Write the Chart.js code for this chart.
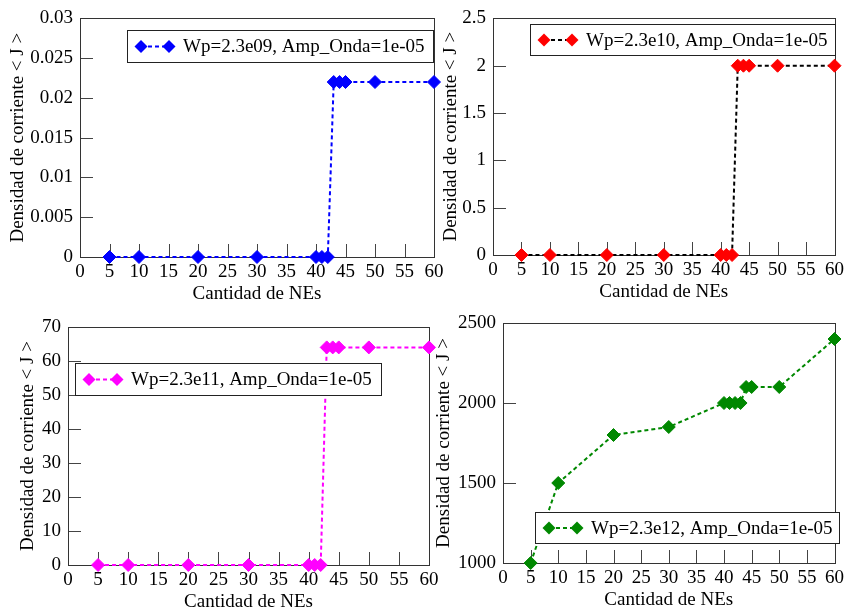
<!DOCTYPE html>
<html>
<head>
<meta charset="utf-8">
<script src="https://cdn.jsdelivr.net/npm/chart.js@4.4.1/dist/chart.umd.min.js"></script>
<style>
  body { margin: 0; background: #fff; font-family: "Liberation Serif", "Times New Roman", Times, serif; }
  #wrap { position: relative; width: 848px; height: 616px; }
  #wrap canvas { position: absolute; left: 0; top: 0; }
</style>
</head>
<body>
<div id="wrap">
  <canvas id="c1" width="848" height="616"></canvas>
  <canvas id="c2" width="848" height="616"></canvas>
  <canvas id="c3" width="848" height="616"></canvas>
  <canvas id="c4" width="848" height="616"></canvas>
</div>
<script>
// cantidad de NEs (x) for every panel
const nes = [5, 10, 20, 30, 40, 41, 42, 43, 44, 45, 50, 60];

// densidad de corriente <J> for each Wp
const jWp9  = [0, 0, 0, 0, 0, 0, 0, 0.022, 0.022, 0.022, 0.022, 0.022];
const jWp10 = [0, 0, 0, 0, 0, 0, 0, 2, 2, 2, 2, 2];
const jWp11 = [0, 0, 0, 0, 0, 0, 0, 64, 64, 64, 64, 64];
const jWp12 = [1000, 1500, 1800, 1850, 2000, 2000, 2000, 2000, 2100, 2100, 2100, 2400];

const seriesLabels = [
  'Wp=2.3e09, Amp_Onda=1e-05',
  'Wp=2.3e10, Amp_Onda=1e-05',
  'Wp=2.3e11, Amp_Onda=1e-05',
  'Wp=2.3e12, Amp_Onda=1e-05'
];

// y axis ranges / steps per panel
const yMins  = [0, 0, 0, 1000];
const yMaxs  = [0.03, 2.5, 70, 2500];
const ySteps = [0.005, 0.5, 10, 500];

// x axis range
const xMin = 0, xMax = 60, xStep = 5;

const xTitle = 'Cantidad de NEs';
const yTitle = 'Densidad de corriente < J >';

const FONT = '"Liberation Serif", "Times New Roman", Times, serif';
const FS = 19;

// panel layout (pixels) + colours
const panels = [
  { id: 'c1', data: jWp9,  area: { l: 80,  r: 434, t: 17,  b: 257 }, yTitleX: 18,  legend: { x: 127, y: 30,  w: 306, h: 32 }, marker: '#0000ff', line: '#0000ff' },
  { id: 'c2', data: jWp10, area: { l: 493, r: 836, t: 17,  b: 255 }, yTitleX: 451, legend: { x: 530, y: 24,  w: 305, h: 31 }, marker: '#ff0000', line: '#000000' },
  { id: 'c3', data: jWp11, area: { l: 68,  r: 429, t: 327, b: 565 }, yTitleX: 28,  legend: { x: 75,  y: 363, w: 306, h: 32 }, marker: '#ff00ff', line: '#ff00ff' },
  { id: 'c4', data: jWp12, area: { l: 503, r: 839, t: 323, b: 563 }, yTitleX: 444, legend: { x: 535, y: 512, w: 304, h: 31 }, marker: '#008800', line: '#008800' }
];

const X_HEIGHT = 48;
const TICK_LEN = 13;

function fmt(v) {
  return String(+Number(v).toFixed(6));
}

function diamond(ctx, x, y, r, color) {
  ctx.beginPath();
  ctx.moveTo(x - r, y);
  ctx.lineTo(x, y - r);
  ctx.lineTo(x + r, y);
  ctx.lineTo(x, y + r);
  ctx.closePath();
  ctx.fillStyle = color;
  ctx.fill();
}

// frame + inward tick marks, xmgrace style
const framePlugin = {
  id: 'frame',
  beforeDatasetsDraw(chart) {
    const { ctx, chartArea: a, scales: { x, y } } = chart;
    ctx.save();
    ctx.strokeStyle = '#444';
    ctx.lineWidth = 1;
    ctx.beginPath();
    x.ticks.forEach(t => {
      const px = Math.round(x.getPixelForValue(t.value)) + 0.5;
      ctx.moveTo(px, a.bottom);
      ctx.lineTo(px, a.bottom - TICK_LEN);
    });
    y.ticks.forEach(t => {
      const py = Math.round(y.getPixelForValue(t.value)) + 0.5;
      ctx.moveTo(a.left, py);
      ctx.lineTo(a.left + TICK_LEN, py);
    });
    ctx.stroke();
    ctx.strokeStyle = '#333';
    ctx.strokeRect(Math.round(a.left) + 0.5, Math.round(a.top) + 0.5,
                   Math.round(a.right - a.left), Math.round(a.bottom - a.top));
    ctx.restore();
  }
};

// boxed legend drawn over the data
const boxLegendPlugin = {
  id: 'boxLegend',
  afterDatasetsDraw(chart, args, opts) {
    const { ctx } = chart;
    const L = opts.box;
    const ds = chart.data.datasets[0];
    ctx.save();
    ctx.fillStyle = '#fff';
    ctx.fillRect(L.x, L.y, L.w, L.h);
    ctx.strokeStyle = '#222';
    ctx.lineWidth = 1;
    ctx.strokeRect(L.x + 0.5, L.y + 0.5, L.w, L.h);
    const cy = L.y + L.h / 2 + 0.5;
    const x1 = L.x + 14, x2 = x1 + 28;
    ctx.strokeStyle = ds.borderColor;
    ctx.lineWidth = 2;
    ctx.setLineDash([4, 3]);
    ctx.beginPath();
    ctx.moveTo(x1, cy);
    ctx.lineTo(x2, cy);
    ctx.stroke();
    ctx.setLineDash([]);
    diamond(ctx, x1, cy, 6.5, ds.pointBackgroundColor);
    diamond(ctx, x2, cy, 6.5, ds.pointBackgroundColor);
    ctx.fillStyle = '#000';
    ctx.font = FS + 'px ' + FONT;
    ctx.textBaseline = 'middle';
    ctx.fillText(opts.text, x2 + 14, cy + 1);
    ctx.restore();
  }
};

panels.forEach((p, i) => {
  const padLeft = Math.max(0, Math.round(p.yTitleX - 14));
  const yWidth = p.area.l - padLeft;
  const titleLH = FS * 1.2;
  const yTitlePad = p.yTitleX - padLeft - titleLH / 2;

  new Chart(document.getElementById(p.id), {
    type: 'scatter',
    data: {
      datasets: [{
        label: seriesLabels[i],
        data: nes.map((n, k) => ({ x: n, y: p.data[k] })),
        showLine: true,
        borderColor: p.line,
        borderWidth: 2,
        borderDash: [4, 3],
        pointStyle: 'rectRot',
        pointRadius: 6.5,
        pointHoverRadius: 6.5,
        pointBackgroundColor: p.marker,
        pointBorderColor: p.marker,
        pointBorderWidth: 1,
        clip: false
      }]
    },
    options: {
      responsive: false,
      animation: false,
      events: [],
      layout: {
        padding: {
          left: padLeft,
          right: 848 - p.area.r,
          top: p.area.t,
          bottom: 616 - p.area.b - X_HEIGHT
        }
      },
      scales: {
        x: {
          type: 'linear',
          min: xMin,
          max: xMax,
          grid: { display: false, drawTicks: false },
          border: { display: false },
          afterFit: s => { s.height = X_HEIGHT; },
          ticks: {
            stepSize: xStep,
            autoSkip: false,
            maxRotation: 0,
            padding: 4,
            color: '#000',
            font: { family: FONT, size: FS },
            callback: v => fmt(v)
          },
          title: {
            display: true,
            text: xTitle,
            color: '#000',
            padding: { top: 0, bottom: 0 },
            font: { family: FONT, size: FS }
          }
        },
        y: {
          type: 'linear',
          min: yMins[i],
          max: yMaxs[i],
          grid: { display: false, drawTicks: false },
          border: { display: false },
          afterFit: s => { s.width = yWidth; },
          ticks: {
            stepSize: ySteps[i],
            padding: 7,
            color: '#000',
            font: { family: FONT, size: FS },
            callback: v => fmt(v)
          },
          title: {
            display: true,
            text: yTitle,
            color: '#000',
            padding: { top: yTitlePad, bottom: 0 },
            font: { family: FONT, size: FS }
          }
        }
      },
      plugins: {
        legend: { display: false },
        tooltip: { enabled: false },
        boxLegend: { box: p.legend, text: seriesLabels[i] }
      }
    },
    plugins: [framePlugin, boxLegendPlugin]
  });
});
</script>
</body>
</html>
